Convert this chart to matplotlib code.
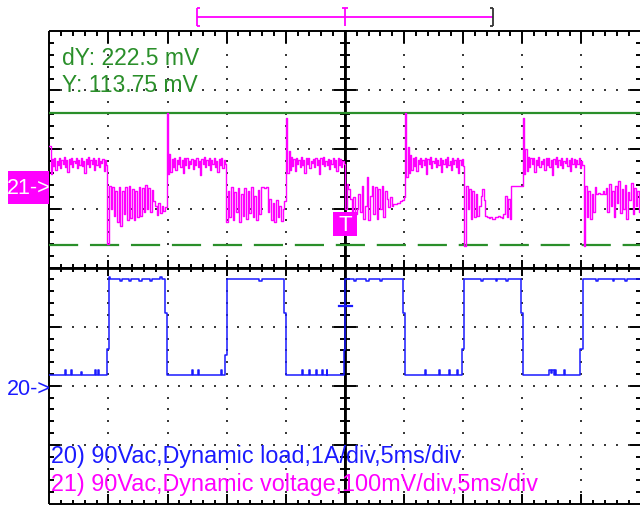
import numpy as np
import matplotlib
matplotlib.use("Agg")
import matplotlib.pyplot as plt
from matplotlib.patches import Rectangle
from matplotlib.collections import LineCollection

plt.rcParams['font.family'] = ['Liberation Sans', 'DejaVu Sans']

# ---------------- data (screen divisions: x 0..10 at 5 ms/div, y 0..8) ----------------
# Channel 21 (magenta, output voltage) - segment boundaries and samples per segment
ch21_edges = [0.0, 0.98, 1.985, 2.99, 4.005, 5.0, 6.02, 7.02, 8.01, 9.04, 10.0]
ch21_seg_a = [6.06, 5.58, 5.84, 5.72, 5.86, 5.66, 5.80, 5.74, 5.85, 5.69, 5.83, 5.76, 5.87, 5.70, 5.82, 5.62,
              5.84, 5.75, 5.86, 5.71, 5.80, 5.77, 5.85, 5.68, 5.83, 5.74, 5.86, 5.72, 5.81, 5.60, 5.84, 5.76,
              5.87, 5.70, 5.82, 5.75, 5.85, 5.65, 5.83, 5.73, 5.86, 5.71, 5.80, 5.77, 5.84, 5.63, 5.82, 5.74]
ch21_seg_b = [4.40, 5.39, 4.99, 5.36, 4.88, 5.30, 4.77, 5.37, 4.71, 5.30, 4.90, 5.36, 4.80, 5.38, 4.84, 5.33,
              4.80, 5.30, 4.85, 5.37, 4.88, 5.34, 4.95, 5.40, 4.99, 5.35, 4.94, 5.32, 5.12, 5.05, 4.89, 5.10,
              4.92, 5.05, 4.96, 5.02]
ch21_seg_c = [6.62, 5.58, 5.92, 5.62, 5.84, 5.70, 5.86, 5.66, 5.82, 5.75, 5.87, 5.70, 5.83, 5.60, 5.85, 5.74,
              5.86, 5.69, 5.81, 5.76, 5.84, 5.67, 5.83, 5.73, 5.86, 5.70, 5.80, 5.57, 5.84, 5.75, 5.87, 5.71,
              5.82, 5.74, 5.85, 5.66, 5.83, 5.76, 5.86, 5.70, 5.81, 5.62, 5.84, 5.74, 5.85, 5.69, 5.82, 5.75]
ch21_seg_d = [4.77, 5.30, 4.85, 5.36, 4.80, 5.28, 4.95, 5.35, 4.78, 5.25, 4.88, 5.34, 4.82, 5.30, 4.92, 5.36,
              4.86, 5.22, 4.80, 5.32, 4.90, 5.36, 5.36, 5.35, 5.36, 4.95, 5.16, 4.80, 5.10, 4.77, 5.14, 4.85,
              5.05, 4.79, 5.00, 5.12]
ch21_seg_e = [6.54, 5.60, 5.98, 5.66, 5.88, 5.72, 5.84, 5.64, 5.86, 5.76, 5.82, 5.70, 5.87, 5.73, 5.83, 5.61,
              5.85, 5.75, 5.86, 5.68, 5.81, 5.77, 5.84, 5.70, 5.86, 5.74, 5.82, 5.59, 5.85, 5.76, 5.87, 5.72,
              5.80, 5.74, 5.84, 5.67, 5.83, 5.75, 5.86, 5.71, 5.82, 5.64, 5.85, 5.73, 5.84, 5.70, 5.81, 5.76]
ch21_seg_f = [5.00, 5.42, 5.33, 5.16, 4.88, 5.19, 4.91, 4.99, 5.25, 4.94, 5.39, 4.82, 5.05, 5.53, 4.80, 5.22,
              5.39, 4.91, 5.36, 4.82, 5.33, 4.99, 5.38, 4.86, 5.30, 5.16, 5.02, 5.19, 5.05, 5.08, 5.08, 5.09,
              5.10, 5.12, 5.14, 5.19]
ch21_seg_g = [6.62, 5.54, 6.05, 5.60, 5.90, 5.66, 5.85, 5.72, 5.87, 5.63, 5.83, 5.76, 5.86, 5.70, 5.82, 5.74,
              5.85, 5.58, 5.84, 5.75, 5.87, 5.69, 5.81, 5.77, 5.85, 5.71, 5.83, 5.74, 5.86, 5.62, 5.82, 5.76,
              5.84, 5.70, 5.87, 5.73, 5.80, 5.66, 5.85, 5.75, 5.83, 5.71, 5.86, 5.60, 5.82, 5.74, 5.84, 5.72]
ch21_seg_h = [4.37, 5.39, 4.99, 5.33, 4.82, 5.30, 4.85, 5.25, 4.88, 5.05, 5.22, 5.33, 5.15, 4.88, 4.85, 4.84,
              4.86, 4.83, 4.82, 4.85, 4.86, 4.88, 4.85, 4.84, 4.90, 5.22, 4.85, 5.16, 4.82, 5.39, 5.39, 5.39,
              5.38, 5.39, 5.39, 5.39]
ch21_seg_i = [6.54, 5.58, 6.00, 5.64, 5.88, 5.70, 5.85, 5.75, 5.86, 5.62, 5.83, 5.73, 5.87, 5.70, 5.81, 5.76,
              5.84, 5.66, 5.85, 5.74, 5.86, 5.71, 5.82, 5.57, 5.84, 5.75, 5.87, 5.70, 5.83, 5.74, 5.85, 5.68,
              5.81, 5.77, 5.86, 5.72, 5.83, 5.63, 5.85, 5.75, 5.84, 5.70, 5.82, 5.76, 5.86, 5.69, 5.80, 5.74]
ch21_seg_j = [4.37, 5.39, 4.85, 5.30, 4.82, 5.25, 4.95, 5.36, 5.25, 5.26, 5.24, 5.25, 5.30, 5.25, 5.35, 4.95,
              5.42, 5.05, 5.30, 4.85, 5.38, 5.10, 5.46, 4.92, 5.33, 5.00, 5.40, 4.82, 5.28, 5.15, 5.44, 4.90,
              5.35, 5.05, 5.30, 4.95]

# Channel 20 (blue, load current) - step trace (time, level)
ch20_t = [0.00, 0.27, 0.285, 0.37, 0.385, 0.53, 0.545, 0.77, 0.785, 0.82, 0.835, 0.975, 1.005, 1.03, 1.05,
          1.20, 1.23, 1.35, 1.38, 1.52, 1.56, 1.70, 1.73, 1.88, 1.90, 1.96, 1.995,
          2.41, 2.425, 2.51, 2.525, 2.90, 2.915, 2.97, 3.005, 3.55, 3.59, 3.975, 4.01,
          4.28, 4.295, 4.39, 4.405, 4.51, 4.525, 4.62, 4.635, 4.69, 4.705, 4.985, 5.0,
          5.15, 5.19, 5.35, 5.40, 5.60, 5.63, 5.985, 6.02,
          6.35, 6.365, 6.59, 6.605, 6.76, 6.775, 6.90, 6.915, 6.985, 7.02,
          7.30, 7.33, 7.55, 7.58, 7.73, 7.76, 7.985, 8.02,
          8.46, 8.48, 8.50, 8.53, 8.56, 8.575, 8.70, 8.715, 8.985, 9.02,
          9.25, 9.28, 9.53, 9.56, 9.74, 9.77, 10.0]
ch20_v = [2.19, 2.26, 2.19, 2.26, 2.19, 2.24, 2.19, 2.26, 2.19, 2.26, 2.19, 2.62, 3.84, 3.81, 3.81,
          3.77, 3.81, 3.77, 3.81, 3.77, 3.81, 3.77, 3.81, 3.84, 3.81, 3.24, 2.19,
          2.26, 2.19, 2.26, 2.19, 2.26, 2.19, 2.52, 3.81, 3.78, 3.81, 3.24, 2.19,
          2.26, 2.19, 2.26, 2.19, 2.26, 2.19, 2.26, 2.19, 2.26, 2.19, 2.60, 3.81,
          3.77, 3.81, 3.77, 3.81, 3.77, 3.81, 3.24, 2.19,
          2.26, 2.19, 2.26, 2.19, 2.26, 2.19, 2.26, 2.19, 2.62, 3.81,
          3.77, 3.81, 3.77, 3.81, 3.77, 3.81, 3.24, 2.19,
          2.26, 2.22, 2.26, 2.19, 2.26, 2.19, 2.26, 2.19, 2.62, 3.81,
          3.77, 3.81, 3.77, 3.81, 3.77, 3.81, 3.81]

cursor_levels = [6.61, 4.385]          # green cursors (solid, dashed)
record_window = [2.5, 7.5]             # magenta bracket above screen
trigger_x = 5.0
trigger_level_ch20 = 3.35
ch21_marker_level = 5.36
ch20_marker_level = 1.96

cursor_texts = ["dY: 222.5 mV", "Y: 113.75 mV"]
channel_texts = ["20) 90Vac,Dynamic load,1A/div,5ms/div",
                 "21) 90Vac,Dynamic voltage,100mV/div,5ms/div"]

MAGENTA = '#ff00ff'
BLUE = '#1a1aff'
GREEN = '#2a8f2a'
GRIDC = '#3a3a3a'

# ---------------- figure ----------------
W, H = 640, 506
fig = plt.figure(figsize=(W / 100, H / 100), dpi=100)
fig.patch.set_facecolor('white')
left_px, right_px, top_px, bot_px = 49.3, 640.5, 32.3, 505.0
ax = fig.add_axes([left_px / W, (H - bot_px) / H, (right_px - left_px) / W, (bot_px - top_px) / H])
ax.set_xlim(0, 10)
ax.set_ylim(0, 8)
ax.axis('off')

pxx = (right_px - left_px) / 10.0
pxy = (bot_px - top_px) / 8.0

# dotted graticule
dots_x, dots_y = [], []
for i in [1, 2, 3, 4, 6, 7, 8, 9]:
    for k in range(1, 40):
        dots_x.append(i); dots_y.append(k * 0.2)
for j in [1, 2, 3, 5, 6, 7]:
    for k in range(1, 50):
        dots_x.append(k * 0.2); dots_y.append(j)
ax.plot(dots_x, dots_y, ls='none', marker='s', ms=1.5, mew=0, color=GRIDC, zorder=1)

# frame and ticks
segs = []
segs += [[(0, 0), (0, 8)], [(0, 8), (10, 8)], [(0, 0), (10, 0)], [(10, 0), (10, 8)]]
segs += [[(5, 0), (5, 8)], [(0, 4), (10, 4)]]
for k in range(1, 40):
    y = round(k * 0.2, 3)
    major = abs(y - round(y)) < 1e-6
    Lb = (11 if major else 5) / pxx
    segs.append([(0, y), (Lb, y)])
    segs.append([(10, y), (10 - Lb, y)])
    hc = (11 if major else 5) / pxx
    segs.append([(5 - hc, y), (5 + hc, y)])
for k in range(1, 50):
    x = round(k * 0.2, 3)
    major = abs(x - round(x)) < 1e-6
    Lt = (12 if major else 5) / pxy
    segs.append([(x, 8), (x, 8 - Lt)])
    segs.append([(x, 0), (x, Lt * 0.85)])
    hc = (8 if major else 4) / pxy
    segs.append([(x, 4 - hc), (x, 4 + hc)])
ax.add_collection(LineCollection(segs, colors='black', linewidths=1.4, zorder=2, clip_on=False))
ax.plot([5, 5], [0, 8], color='black', lw=2.0, zorder=2, clip_on=False)
ax.plot([0, 10], [4, 4], color='black', lw=2.0, zorder=2)

# cursors
plt.rcParams['lines.scale_dashes'] = False
ax.axhline(cursor_levels[0], color=GREEN, lw=1.6, zorder=3)
ax.axhline(cursor_levels[1], color=GREEN, lw=1.6, ls=(0, (21, 8.5)), zorder=3)

# channel 21 trace
segments = [ch21_seg_a, ch21_seg_b, ch21_seg_c, ch21_seg_d, ch21_seg_e,
            ch21_seg_f, ch21_seg_g, ch21_seg_h, ch21_seg_i, ch21_seg_j]
xs, ys = [], []
for k, s in enumerate(segments):
    a, b = ch21_edges[k], ch21_edges[k + 1]
    n = len(s)
    xs.extend(a + (b - a) * np.arange(n) / n)
    ys.extend(s)
xs.append(ch21_edges[-1]); ys.append(segments[-1][-1])
ax.plot(xs, ys, color=MAGENTA, lw=1.0, drawstyle='steps-post', zorder=4)

# channel 20 trace
ax.plot(ch20_t, ch20_v, color=BLUE, lw=1.1, drawstyle='steps-post', zorder=4)
ax.plot([trigger_x - 0.1, trigger_x + 0.12], [trigger_level_ch20] * 2, color=BLUE, lw=1.6, zorder=5)

# trigger "T" box
tw, th = 24 / pxx, 24 / pxy
ax.add_patch(Rectangle((trigger_x - 0.2, 4.535), tw, th, facecolor=MAGENTA, edgecolor='none', zorder=6))
ax.text(trigger_x - 0.2 + tw / 2, 4.535 + th / 2, "T", color='white', fontsize=16,
        ha='center', va='center', zorder=7)

# channel 21 ground marker
bw, bh = 41 / pxx, 33 / pxy
ax.add_patch(Rectangle((-bw, ch21_marker_level - bh / 2), bw, bh, facecolor=MAGENTA,
                       edgecolor='none', zorder=6, clip_on=False))
ax.text(-bw / 2, ch21_marker_level, "21->", color='white', fontsize=15.5, ha='center', va='center',
        zorder=7, clip_on=False)
ax.text(0.03, ch20_marker_level, "20->", color=BLUE, fontsize=15.5, ha='right', va='center',
        zorder=7, clip_on=False)

# record window bracket
yb = (bot_px - 18.3) / pxy
yt = (bot_px - 9.3) / pxy
ylo = (bot_px - 26.7) / pxy
s3 = 3 / pxx
br = [[(record_window[0], yb), (record_window[1], yb)],
      [(record_window[0], ylo), (record_window[0], yt)],
      [(record_window[0], yt), (record_window[0] + s3, yt)],
      [(record_window[0], ylo), (record_window[0] + s3, ylo)],
      [(trigger_x, ylo), (trigger_x, yt)],
      [(trigger_x - s3, yt), (trigger_x + s3, yt)]]
ax.add_collection(LineCollection(br, colors=MAGENTA, linewidths=1.3, clip_on=False, zorder=5))
brk = [[(record_window[1], ylo), (record_window[1], yt)],
       [(record_window[1], yt), (record_window[1] - s3, yt)],
       [(record_window[1], ylo), (record_window[1] - s3, ylo)]]
ax.add_collection(LineCollection(brk, colors='#333333', linewidths=1.3, clip_on=False, zorder=5))

# cursor readouts
x_txt = (61.7 - left_px) / pxx
ax.text(x_txt, (bot_px - 65) / pxy, cursor_texts[0], color=GREEN, fontsize=16.5, va='baseline', zorder=7)
ax.text(x_txt, (bot_px - 91.7) / pxy, cursor_texts[1], color=GREEN, fontsize=16.5, va='baseline', zorder=7)

# channel descriptions
x_ch = (50.7 - left_px) / pxx
ax.text(x_ch, (bot_px - 463) / pxy, channel_texts[0], color=BLUE, fontsize=16.8, va='baseline', zorder=7)
ax.text(x_ch, (bot_px - 491) / pxy, channel_texts[1], color=MAGENTA, fontsize=16.8, va='baseline', zorder=7)

fig.savefig('out.png', dpi=100)
